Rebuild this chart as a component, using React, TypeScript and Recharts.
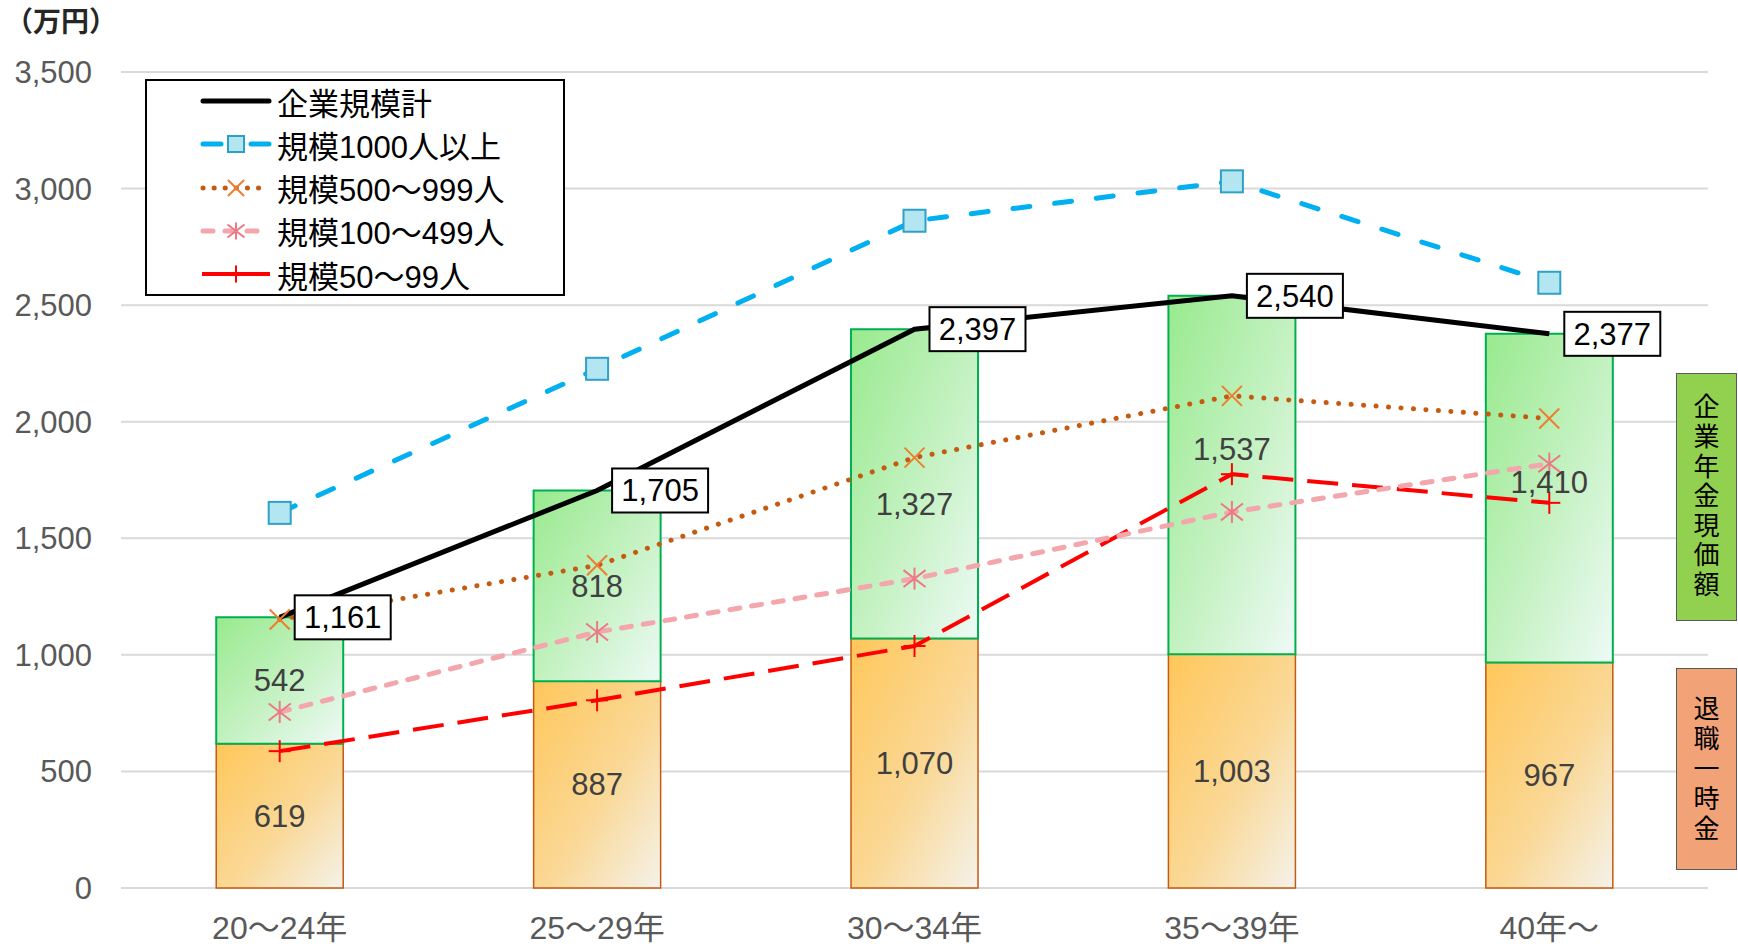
import React from "react";
import {
  ComposedChart,
  Bar,
  Line,
  XAxis,
  YAxis,
  CartesianGrid,
  Legend,
  LabelList,
} from "recharts";

const categories = ["20～24年", "25～29年", "30～34年", "35～39年", "40年～"];
const lumpSum = [619, 887, 1070, 1003, 967];
const pensionValue = [542, 818, 1327, 1537, 1410];
const totalAll = [1161, 1705, 2397, 2540, 2377];
const size1000 = [1609, 2227, 2862, 3031, 2596];
const size500 = [1152, 1384, 1846, 2111, 2014];
const size100 = [755, 1098, 1327, 1613, 1820];
const size50 = [587, 805, 1038, 1775, 1652];
const yTicks = [0, 500, 1000, 1500, 2000, 2500, 3000, 3500];
const seriesNames = [
  "企業規模計",
  "規模1000人以上",
  "規模500～999人",
  "規模100～499人",
  "規模50～99人",
];
const unitLabel = "（万円）";
const pensionBoxText = "企業年金現価額";
const lumpBoxText = "退職一時金";

// label nudges (px) for the pension segment labels, as placed in the original
const pensionLabelShift = [0, 0, 20, -26, -16];

const data = categories.map((name, i) => ({
  name,
  lump: lumpSum[i],
  pension: pensionValue[i],
  total: totalAll[i],
  s1000: size1000[i],
  s500: size500[i],
  s100: size100[i],
  s50: size50[i],
}));

const fmt = (v: number) => v.toLocaleString("en-US");
const FONT = '"Liberation Sans", Arial, "Noto Sans CJK JP", sans-serif';

const C = {
  total: "#000000",
  s1000: "#00B0F0",
  s500: "#C55A11",
  s100: "#F3A6AB",
  s50: "#FF0000",
};

const SquareMark = ({ cx, cy, s = 22 }: any) => (
  <rect x={cx - s / 2} y={cy - s / 2} width={s} height={s} fill="#B4E6F2" stroke="#2FA0C8" strokeWidth={2} />
);
const CrossMark = ({ cx, cy, s = 20 }: any) => (
  <g stroke="#ED7D31" strokeWidth={2}>
    <line x1={cx - s / 2} y1={cy - s / 2} x2={cx + s / 2} y2={cy + s / 2} />
    <line x1={cx - s / 2} y1={cy + s / 2} x2={cx + s / 2} y2={cy - s / 2} />
  </g>
);
const StarMark = ({ cx, cy, s = 22 }: any) => (
  <g stroke="#EB7A86" strokeWidth={2}>
    <line x1={cx} y1={cy - s / 2} x2={cx} y2={cy + s / 2} />
    <line x1={cx - s / 2} y1={cy - s / 2.6} x2={cx + s / 2} y2={cy + s / 2.6} />
    <line x1={cx - s / 2} y1={cy + s / 2.6} x2={cx + s / 2} y2={cy - s / 2.6} />
  </g>
);
const PlusMark = ({ cx, cy, s = 22 }: any) => (
  <g stroke="#FF0000" strokeWidth={2}>
    <line x1={cx} y1={cy - s / 2} x2={cx} y2={cy + s / 2} />
    <line x1={cx - s / 2} y1={cy} x2={cx + s / 2} y2={cy} />
  </g>
);

const dotOf = (Mark: any) => (p: any) => <Mark key={`m-${p.index}`} cx={p.cx} cy={p.cy} />;

const TotalLabel = (p: any) => {
  const { x, y, value } = p;
  return (
    <g>
      <rect x={x + 15} y={y - 22} width={96} height={44} fill="#fff" stroke="#000" strokeWidth={2} />
      <text x={x + 63} y={y} dy="0.35em" textAnchor="middle" fontSize={31} fill="#000">
        {fmt(value)}
      </text>
    </g>
  );
};

const segLabel = (shift?: number[]) => (p: any) => {
  const { x, y, value, index } = p;
  const dy = shift ? shift[index] || 0 : 0;
  return (
    <text x={x} y={y + dy} dy="0.35em" textAnchor="middle" fontSize={31} fill="#404040">
      {fmt(value)}
    </text>
  );
};

const legendIcons = [
  <line key="0" x1={3} y1={15} x2={69} y2={15} stroke={C.total} strokeWidth={5} strokeLinecap="round" />,
  <g key="1">
    <line x1={3} y1={15} x2={69} y2={15} stroke={C.s1000} strokeWidth={5} strokeLinecap="round" strokeDasharray="18 30" />
    <SquareMark cx={36} cy={15} s={16} />
  </g>,
  <g key="2">
    <line x1={3} y1={15} x2={69} y2={15} stroke={C.s500} strokeWidth={5} strokeLinecap="round" strokeDasharray="0.1 11" />
    <CrossMark cx={36} cy={15} s={16} />
  </g>,
  <g key="3">
    <line x1={3} y1={15} x2={69} y2={15} stroke={C.s100} strokeWidth={5} strokeLinecap="round" strokeDasharray="10 12" />
    <StarMark cx={36} cy={15} s={17} />
  </g>,
  <g key="4">
    <line x1={2} y1={15} x2={70} y2={15} stroke={C.s50} strokeWidth={4} />
    <PlusMark cx={36} cy={15} s={17} />
  </g>,
];

const renderLegend = () => (
  <div
    style={{
      width: 420,
      height: 217,
      boxSizing: "border-box",
      border: "2px solid #000",
      background: "#fff",
      position: "relative",
      fontFamily: FONT,
    }}
  >
    {seriesNames.map((n, i) => (
      <div
        key={n}
        style={{
          position: "absolute",
          left: 53,
          top: 20 + 43.3 * i - 20,
          height: 40,
          display: "flex",
          alignItems: "center",
          whiteSpace: "nowrap",
        }}
      >
        <svg width={72} height={30}>
          {legendIcons[i]}
        </svg>
        <span style={{ fontSize: 31, color: "#000", marginLeft: 5 }}>{n}</span>
      </div>
    ))}
  </div>
);

const SideBox = ({ text, top, height, bg, pitch, size }: any) => (
  <div
    style={{
      position: "absolute",
      left: 1676,
      top,
      width: 61,
      height,
      boxSizing: "border-box",
      background: bg,
      border: "1.5px solid #595959",
      display: "flex",
      flexDirection: "column",
      alignItems: "center",
      justifyContent: "center",
      fontFamily: FONT,
      fontSize: size,
      color: "#000",
    }}
  >
    {text.split("").map((ch: string, i: number) => (
      <div key={i} style={{ height: pitch, lineHeight: `${pitch}px` }}>
        {ch}
      </div>
    ))}
  </div>
);

export default function App() {
  return (
    <div
      style={{
        position: "absolute",
        left: 0,
        top: 0,
        width: 1738,
        height: 944,
        background: "#fff",
        fontFamily: FONT,
      }}
    >
      <ComposedChart
        width={1738}
        height={944}
        data={data}
        margin={{ top: 72, right: 30, bottom: 0, left: 0 }}
        barCategoryGap="30%"
      >
        <defs>
          <linearGradient id="gLump" x1="0" y1="0" x2="1" y2="1">
            <stop offset="0" stopColor="#FFC75A" />
            <stop offset="0.55" stopColor="#FAD896" />
            <stop offset="1" stopColor="#F4F2EA" />
          </linearGradient>
          <linearGradient id="gPension" x1="0" y1="0" x2="1" y2="1">
            <stop offset="0" stopColor="#98EA8E" />
            <stop offset="0.55" stopColor="#C6F2C4" />
            <stop offset="1" stopColor="#EEFAF6" />
          </linearGradient>
        </defs>
        <CartesianGrid vertical={false} stroke="#D9D9D9" strokeWidth={2} />
        <XAxis
          dataKey="name"
          height={56}
          axisLine={false}
          tickLine={false}
          tickSize={0}
          tickMargin={28}
          interval={0}
          tick={{ fill: "#595959", fontSize: 32 }}
        />
        <YAxis
          domain={[0, 3500]}
          ticks={yTicks}
          width={121}
          axisLine={false}
          tickLine={false}
          tickSize={0}
          tickMargin={29}
          tick={{ fill: "#595959", fontSize: 31 }}
          tickFormatter={fmt}
        />
        <Legend
          layout="vertical"
          align="center"
          verticalAlign="middle"
          content={renderLegend}
          wrapperStyle={{ left: 145, top: 79, width: 420, height: 217 }}
        />
        <Bar dataKey="lump" stackId="a" fill="url(#gLump)" stroke="#C55A11" strokeWidth={1.5} isAnimationActive={false} />
        <Bar dataKey="pension" stackId="a" fill="url(#gPension)" stroke="#00B050" strokeWidth={2} isAnimationActive={false} />
        <Line
          dataKey="s50"
          stroke={C.s50}
          strokeWidth={4}
          strokeDasharray="31 14"
          dot={dotOf(PlusMark)}
          activeDot={false}
          isAnimationActive={false}
        />
        <Line
          dataKey="s100"
          stroke={C.s100}
          strokeWidth={5}
          strokeLinecap="round"
          strokeDasharray="10 12"
          dot={dotOf(StarMark)}
          activeDot={false}
          isAnimationActive={false}
        />
        <Line
          dataKey="s500"
          stroke={C.s500}
          strokeWidth={5}
          strokeLinecap="round"
          strokeDasharray="0.1 12.4"
          dot={dotOf(CrossMark)}
          activeDot={false}
          isAnimationActive={false}
        />
        <Line
          dataKey="s1000"
          stroke={C.s1000}
          strokeWidth={5}
          strokeLinecap="round"
          strokeDasharray="17 25"
          dot={dotOf(SquareMark)}
          activeDot={false}
          isAnimationActive={false}
        />
        <Line
          dataKey="total"
          stroke={C.total}
          strokeWidth={5}
          dot={false}
          activeDot={false}
          isAnimationActive={false}
        >
          <LabelList dataKey="total" content={TotalLabel} />
        </Line>
        {/* invisible anchors so the segment labels sit above the lines */}
        <Line
          dataKey={(d: any) => d.lump / 2}
          stroke="none"
          dot={false}
          activeDot={false}
          legendType="none"
          isAnimationActive={false}
        >
          <LabelList dataKey="lump" content={segLabel()} />
        </Line>
        <Line
          dataKey={(d: any) => d.lump + d.pension / 2}
          stroke="none"
          dot={false}
          activeDot={false}
          legendType="none"
          isAnimationActive={false}
        >
          <LabelList dataKey="pension" content={segLabel(pensionLabelShift)} />
        </Line>
      </ComposedChart>
      <div
        style={{
          position: "absolute",
          left: 5,
          top: 5,
          fontSize: 28,
          fontWeight: "bold",
          lineHeight: "36px",
          color: "#262626",
          fontFamily: FONT,
        }}
      >
        {unitLabel}
      </div>
      <SideBox text={pensionBoxText} top={373} height={248} bg="#92D050" pitch={29.6} size={26} />
      <SideBox text={lumpBoxText} top={668} height={202} bg="#F2A277" pitch={30} size={26} />
    </div>
  );
}
